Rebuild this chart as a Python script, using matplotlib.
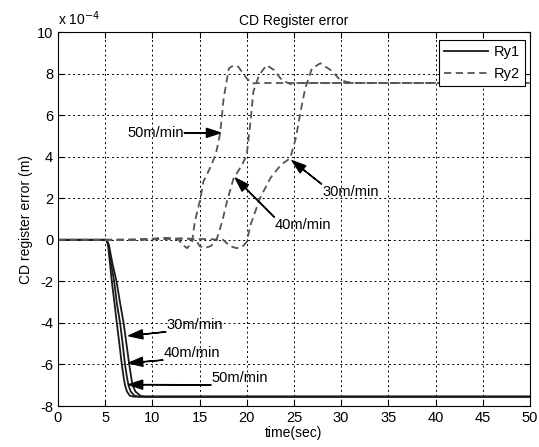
import matplotlib
matplotlib.use("Agg")
import matplotlib.pyplot as plt

plt.rcParams['font.family'] = ['Liberation Sans', 'DejaVu Sans']
plt.rcParams['axes.unicode_minus'] = False

# ---- data (units of 1e-4 m) ----
speeds = ["50m/min", "40m/min", "30m/min"]

# Ry1 (solid) curves
ry1_t_50 = [0, 5.15, 5.3, 5.5, 5.7, 6.0, 6.23, 6.5, 6.76, 6.95, 7.1, 7.3, 7.6, 8.0, 50]
ry1_t_40 = [0, 5.15, 5.35, 5.6, 5.95, 6.25, 6.58, 6.85, 7.1, 7.3, 7.47, 7.7, 8.1, 8.5, 50]
ry1_t_30 = [0, 5.15, 5.4, 5.75, 6.2, 6.6, 6.95, 7.25, 7.55, 7.75, 7.9, 8.2, 8.7, 9.2, 50]
ry1_y = [0, 0, -0.25, -1.1, -2.0, -3.1, -4.0, -5.0, -6.0, -6.6, -7.0, -7.3, -7.5, -7.55, -7.55]

# Ry2 (dashed) curves
ry2_t_50 = [0, 5, 8, 10, 11, 12, 12.8, 13.2, 13.7, 14.2, 14.5, 15.1, 15.4, 16.1, 16.7, 17.0,
            17.2, 17.55, 18.1, 18.6, 19.1, 20.0, 20.55, 21.5, 50]
ry2_y_50 = [0, 0, 0.02, 0.05, 0.1, 0.08, 0.0, -0.25, -0.4, -0.1, 0.88, 2.0, 2.8, 3.45, 4.1, 4.7,
            5.2, 6.8, 8.25, 8.4, 8.33, 7.77, 7.53, 7.55, 7.55]

ry2_t_40 = [0, 5, 8, 10, 12, 13.5, 14.6, 15.0, 15.5, 16.2, 16.8, 17.4, 17.9, 18.6, 19.5, 20.0,
            20.4, 20.7, 21.3, 22.1, 22.9, 23.7, 24.6, 25.5, 50]
ry2_y_40 = [0, 0, 0.0, 0.03, 0.05, 0.08, 0.0, -0.3, -0.4, -0.3, 0.0, 0.88, 1.84, 2.96, 3.6, 4.1,
            5.7, 7.13, 7.93, 8.41, 8.17, 7.7, 7.5, 7.55, 7.55]

ry2_t_30 = [0, 5, 8, 10, 12, 14, 16, 17.5, 18.2, 18.9, 19.5, 20.0, 20.4, 21.4, 22.5, 23.6, 24.6,
            25.2, 25.7, 26.2, 26.9, 27.8, 28.9, 29.9, 30.6, 31.5, 50]
ry2_y_30 = [0, 0, 0.0, 0.02, 0.05, 0.05, 0.03, 0.0, -0.3, -0.4, -0.35, -0.1, 0.72, 2.0, 2.97, 3.6, 3.93,
            4.89, 6.17, 7.3, 8.25, 8.5, 8.17, 7.7, 7.6, 7.55, 7.55]

x_ticks = list(range(0, 51, 5))
y_ticks = list(range(-8, 11, 2))

fig = plt.figure(figsize=(5.39, 4.47), dpi=100)
ax = fig.add_axes([0.1076, 0.0917, 0.8755, 0.8365])

solid_col = '#1a1a1a'
dash_col = '#555555'
l1, = ax.plot(ry1_t_50, ry1_y, '-', color=solid_col, lw=1.3, label='Ry1')
ax.plot(ry1_t_40, ry1_y, '-', color=solid_col, lw=1.3)
ax.plot(ry1_t_30, ry1_y, '-', color=solid_col, lw=1.3)
l2, = ax.plot(ry2_t_50, ry2_y_50, '--', color=dash_col, lw=1.3, dashes=(4, 2.5), label='Ry2')
ax.plot(ry2_t_40, ry2_y_40, '--', color=dash_col, lw=1.3, dashes=(4, 2.5))
ax.plot(ry2_t_30, ry2_y_30, '--', color=dash_col, lw=1.3, dashes=(4, 2.5))

ax.set_xlim(0, 50)
ax.set_ylim(-8, 10)
ax.set_xticks(x_ticks)
ax.set_yticks(y_ticks)
ax.tick_params(direction='in', top=True, right=True, labelsize=10.5, length=4, width=0.8)
ax.grid(True, color='black', linestyle=(0, (2, 3)), linewidth=0.7)
for s in ax.spines.values():
    s.set_linewidth(0.8)

ax.set_title('CD Register error', fontsize=10, pad=5)
ax.set_xlabel('time(sec)', fontsize=10, labelpad=1)
ax.set_ylabel('CD register error (m)', fontsize=10, labelpad=3)
ax.text(0.0, 1.012, r'x 10$^{-4}$', transform=ax.transAxes, fontsize=10, ha='left', va='bottom')

leg = ax.legend(handles=[l1, l2], loc='upper right', bbox_to_anchor=(0.99, 0.979),
                fancybox=False, framealpha=1, edgecolor='black', fontsize=10.5,
                handlelength=3.0, borderpad=0.35, labelspacing=0.55, handletextpad=0.4,
                borderaxespad=0)
leg.get_frame().set_linewidth(0.8)

arrow = dict(facecolor='black', edgecolor='black', width=0.2, headwidth=6.5, headlength=10,
             shrink=0)
fs = 10.5
bb = dict(boxstyle='square,pad=0.05', fc='none', ec='none')
ax.annotate(speeds[0], xy=(17.2, 5.15), xytext=(13.3, 5.15), fontsize=fs, ha='right', va='center',
            arrowprops=arrow, bbox=bb)
ax.annotate(speeds[1], xy=(18.8, 2.97), xytext=(23.0, 0.72), fontsize=fs, ha='left', va='center',
            arrowprops=arrow, bbox=bb)
ax.annotate(speeds[2], xy=(24.8, 3.81), xytext=(28.0, 2.32), fontsize=fs, ha='left', va='center',
            arrowprops=arrow, bbox=bb)
ax.annotate(speeds[2], xy=(7.5, -4.62), xytext=(11.5, -4.09), fontsize=fs, ha='left', va='center',
            arrowprops=arrow, bbox=bb)
ax.annotate(speeds[1], xy=(7.5, -5.93), xytext=(11.2, -5.45), fontsize=fs, ha='left', va='center',
            arrowprops=arrow, bbox=bb)
ax.annotate(speeds[0], xy=(7.5, -6.97), xytext=(16.3, -6.65), fontsize=fs, ha='left', va='center',
            arrowprops=arrow, bbox=bb)

fig.savefig('out.png', dpi=100)
